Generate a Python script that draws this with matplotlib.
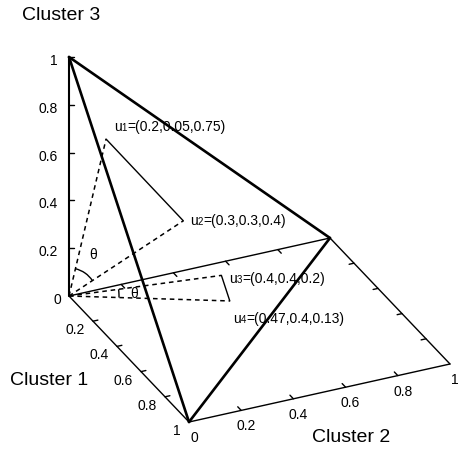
import numpy as np
import matplotlib.pyplot as plt
from matplotlib.patches import Arc

plt.rcParams['font.family'] = ['Liberation Sans', 'DejaVu Sans']

# membership vectors (cluster1, cluster2, cluster3)
names = ['u1', 'u2', 'u3', 'u4']
c1_vals = [0.2, 0.3, 0.4, 0.47]
c2_vals = [0.05, 0.3, 0.4, 0.4]
c3_vals = [0.75, 0.4, 0.2, 0.13]
vec_labels = ['=(0.2,0.05,0.75)', '=(0.3,0.3,0.4)', '=(0.4,0.4,0.2)', '=(0.47,0.4,0.13)']

ticks = [0, 0.2, 0.4, 0.6, 0.8, 1]
tick_labels = ['0', '0.2', '0.4', '0.6', '0.8', '1']

# screen projection of the 3d box (pixels)
ORIGIN = np.array([69.0, 297.0])
E1 = np.array([120.0, 126.0])
E2 = np.array([261.0, -58.0])
E3 = np.array([0.0, -239.0])


def proj(a, b, c):
    p = ORIGIN + a * E1 + b * E2 + c * E3
    return p[0], p[1]


def seg(ax, p, q, **kw):
    ax.plot([p[0], q[0]], [p[1], q[1]], color='black', solid_capstyle='round', **kw)


def unit(v):
    return v / np.linalg.norm(v)


fig = plt.figure(figsize=(4.6, 4.52), dpi=100)
ax = fig.add_axes([0, 0, 1, 1])
ax.set_xlim(0, 460)
ax.set_ylim(452, 0)
ax.axis('off')

# base box edges
seg(ax, proj(0, 0, 0), proj(1, 0, 0), lw=1.0)
seg(ax, proj(1, 0, 0), proj(1, 1, 0), lw=1.0)
seg(ax, proj(1, 1, 0), proj(0, 1, 0), lw=1.0)
seg(ax, proj(0, 1, 0), proj(0, 0, 0), lw=1.0)
seg(ax, proj(0, 0, 0), proj(0, 0, 1), lw=1.5)

# simplex triangle
seg(ax, proj(0, 0, 1), proj(1, 0, 0), lw=1.9)
seg(ax, proj(0, 0, 1), proj(0, 1, 0), lw=1.9)
seg(ax, proj(1, 0, 0), proj(0, 1, 0), lw=1.9)

tl = 5
d1 = unit(E1)
d2 = unit(E2)
for t, lab in zip(ticks, tick_labels):
    # cluster 3 axis
    x, y = proj(0, 0, t)
    if t > 0:
        seg(ax, (x, y), (x + tl, y), lw=1.0)
    ax.text(58 if t > 0 else 61, y + 3, lab, ha='right', va='center', fontsize=10)
    # cluster 1 axis
    x, y = proj(t, 0, 0)
    if 0 < t < 1:
        seg(ax, (x, y), (x + tl * d2[0], y + tl * d2[1]), lw=1.0)
        x2, y2 = proj(t, 1, 0)
        seg(ax, (x2, y2), (x2 - tl * d2[0], y2 - tl * d2[1]), lw=1.0)
    if t > 0:
        ax.text(x - 8, y + 8, lab, ha='right', va='center', fontsize=10)
    # cluster 2 axis
    x, y = proj(1, t, 0)
    if 0 < t < 1:
        seg(ax, (x, y), (x - tl * d1[0], y - tl * d1[1]), lw=1.0)
        x2, y2 = proj(0, t, 0)
        seg(ax, (x2, y2), (x2 + tl * d1[0], y2 + tl * d1[1]), lw=1.0)
    ax.text(x + 5, y + 15, lab, ha='center', va='center', fontsize=10)

ax.text(22, 15, 'Cluster 3', ha='left', va='center', fontsize=14)
ax.text(10, 381, 'Cluster 1', ha='left', va='center', fontsize=14)
ax.text(312, 438, 'Cluster 2', ha='left', va='center', fontsize=14)

# vectors from origin
pts = [proj(a, b, c) for a, b, c in zip(c1_vals, c2_vals, c3_vals)]
for p in pts:
    ax.plot([ORIGIN[0], p[0]], [ORIGIN[1], p[1]], color='black', lw=1.1,
            linestyle=(0, (3, 2.5)))
seg(ax, pts[0], pts[1], lw=1.0)
seg(ax, pts[2], pts[3], lw=1.0)

# labels: "u" + small index digit on the baseline + values
renderer = fig.canvas.get_renderer()
label_pos = [(114, 131), (190, 225), (229, 283), (233, 323)]
for name, vl, (lx, ly) in zip(names, vec_labels, label_pos):
    x = lx
    for piece, fs in [('u', 10), (name[1], 7), (vl, 10)]:
        t = ax.text(x, ly, piece, ha='left', va='baseline', fontsize=fs)
        x += t.get_window_extent(renderer).width

# angle arcs
def ang(p):
    return np.degrees(np.arctan2(ORIGIN[1] - p[1], p[0] - ORIGIN[0]))

ax.add_patch(Arc(ORIGIN, 56, 56, theta1=-ang(pts[0]), theta2=-ang(pts[1]), color='black', lw=1.0))
ax.add_patch(Arc(ORIGIN, 100, 100, theta1=-ang(pts[2]), theta2=-ang(pts[3]), color='black', lw=1.0))
ax.text(93, 255, 'θ', ha='center', va='center', fontsize=10)
ax.text(134, 294, 'θ', ha='center', va='center', fontsize=10)

fig.savefig('out.png', dpi=100)
